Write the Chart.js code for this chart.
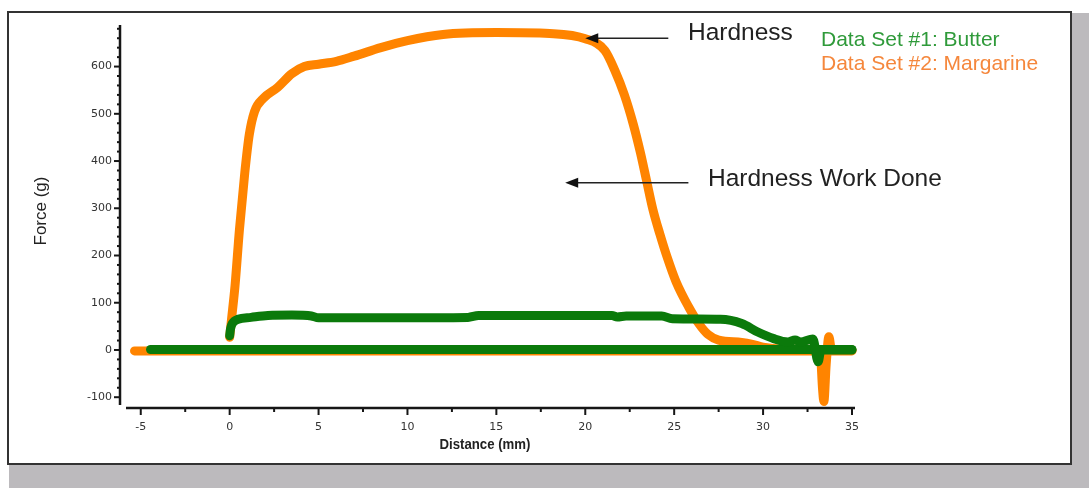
<!DOCTYPE html>
<html>
<head>
<meta charset="utf-8">
<title>Hardness - Butter vs Margarine</title>
<script src="https://cdn.jsdelivr.net/npm/chart.js@4.4.1/dist/chart.umd.min.js"></script>
<style>
html, body { margin: 0; padding: 0; background: #fff; }
#shade { position: absolute; left: 9px; top: 13px; width: 1080px; height: 475px; background: #bcbabd; }
#frame { position: absolute; left: 7px; top: 11px; width: 1061px; height: 450px; border: 2px solid #333; background: #fff; }
#chart { position: absolute; left: 0; top: 0; }
</style>
</head>
<body>
<div id="shade"></div>
<div id="frame"></div>
<canvas id="chart" width="1089" height="488"></canvas>
<script>
// Data Set #1: Butter (force curve + return baseline), distance in mm, force in g
var butterForceX = [0, 0.05, 0.15, 0.47, 1.2, 2.15, 3.5, 4.6, 5.0, 9.0, 13.4, 14.0, 21.5, 21.8, 22.3, 24.3, 24.9, 27.6, 28.8, 29.7, 30.6, 31.4, 31.8, 32.1, 32.8, 33.1, 33.25, 35.0];
var butterForceY = [30, 45, 56, 65, 69, 73, 74, 72, 68, 68, 69, 73, 73, 70, 72, 72, 66, 65, 56, 38, 24, 17, 21, 17, 23, -25, 0, 0];
var butterBaseX = [-4.45, 35.0];
var butterBaseY = [1, 1];

// Data Set #2: Margarine
var margarineForceX = [0, 0.1, 0.3, 0.55, 0.85, 1.1, 1.4, 1.9, 2.7, 3.5, 4.2, 5.0, 6.0, 7.0, 8.5, 10.0, 12.0, 15.0, 18.0, 20.0, 21.1, 21.65, 22.2, 22.7, 23.1, 23.45, 23.8, 24.2, 24.6, 25.1, 25.8, 26.4, 26.9, 27.5, 28.8, 29.4, 30.0, 31.0, 33.2, 33.35, 33.42, 33.55, 33.7, 33.85, 35.0];
var margarineForceY = [27, 63, 135, 255, 375, 455, 505, 533, 556, 585, 600, 605, 611, 622, 640, 655, 668, 672, 670, 659, 634, 593, 540, 478, 418, 358, 298, 245, 197, 145, 92, 55, 33, 21, 16, 12, 6, 2, 0, -85, -109, -30, 28, 0, 0];
var margarineBaseX = [-5.35, 35.0];
var margarineBaseY = [-2, -2];

var seriesNames = ['Data Set #1: Butter', 'Data Set #2: Margarine'];

// axis ranges and ticks
var xMin = -5.83, xMax = 35.17, xMinorStep = 2.5;
var yMin = -116.5, yMax = 688, yMinorStep = 20;
var xTicks = [-5, 0, 5, 10, 15, 20, 25, 30, 35];
var yTicks = [-100, 0, 100, 200, 300, 400, 500, 600];

var GREEN = '#0b7a0b', ORANGE = '#ff8400';

function pts(xs, ys) {
    var out = [];
    for (var i = 0; i < xs.length; i++) out.push({x: xs[i], y: ys[i]});
    return out;
}

function line(label, xs, ys, color) {
    return {
        label: label,
        data: pts(xs, ys),
        showLine: true,
        borderColor: color,
        backgroundColor: color,
        borderWidth: 9,
        borderCapStyle: 'round',
        borderJoinStyle: 'round',
        pointRadius: 0,
        cubicInterpolationMode: 'monotone',
        clip: false
    };
}

/* axes lines, major/minor ticks, titles and annotations */
var decorPlugin = {
    id: 'decor',
    afterDraw: function(chart) {
        var ctx = chart.ctx, a = chart.chartArea;
        var xs = chart.scales.x, ys = chart.scales.y;
        var ax = a.left - 6, ay = a.bottom + 3;
        var i, v, p;

        ctx.save();
        ctx.strokeStyle = '#161616';
        ctx.lineWidth = 2.5;
        ctx.beginPath(); ctx.moveTo(ax, a.top); ctx.lineTo(ax, a.bottom); ctx.stroke();
        ctx.beginPath(); ctx.moveTo(a.left, ay); ctx.lineTo(a.right, ay); ctx.stroke();

        ctx.lineWidth = 2;
        for (i = Math.ceil(yMin / yMinorStep); i * yMinorStep <= yMax; i++) {
            v = i * yMinorStep;
            p = ys.getPixelForValue(v);
            ctx.beginPath();
            ctx.moveTo(ax - (yTicks.indexOf(v) >= 0 ? 6 : 3), p);
            ctx.lineTo(ax, p);
            ctx.stroke();
        }
        for (i = Math.ceil(xMin / xMinorStep); i * xMinorStep <= xMax; i++) {
            v = i * xMinorStep;
            p = xs.getPixelForValue(v);
            ctx.beginPath();
            ctx.moveTo(p, ay);
            ctx.lineTo(p, ay + (xTicks.indexOf(v) >= 0 ? 7 : 4));
            ctx.stroke();
        }

        // axis titles
        ctx.fillStyle = '#222';
        ctx.textAlign = 'center';
        ctx.textBaseline = 'middle';
        ctx.save();
        ctx.translate(41, 211);
        ctx.rotate(-Math.PI / 2);
        ctx.font = '17px "Liberation Sans", Arial, sans-serif';
        ctx.fillText('Force (g)', 0, 0);
        ctx.restore();

        ctx.save();
        ctx.translate(485, 445);
        ctx.scale(0.88, 1);
        ctx.font = 'bold 15px "Liberation Sans", Arial, sans-serif';
        ctx.fillText('Distance (mm)', 0, 0);
        ctx.restore();

        // annotations
        ctx.textAlign = 'left';
        ctx.font = '24.5px "Liberation Sans", Arial, sans-serif';
        ctx.fillText('Hardness', 688, 33);
        ctx.fillText('Hardness Work Done', 708, 179);
        arrow(ctx, xs.getPixelForValue(24.67), ys.getPixelForValue(660), xs.getPixelForValue(20.0), ys.getPixelForValue(660));
        arrow(ctx, xs.getPixelForValue(25.8), ys.getPixelForValue(354), xs.getPixelForValue(18.87), ys.getPixelForValue(354));

        // legend
        ctx.font = '21px "Liberation Sans", Arial, sans-serif';
        ctx.fillStyle = '#2f9a3a';
        ctx.fillText(seriesNames[0], 821, 40);
        ctx.fillStyle = '#f5873c';
        ctx.fillText(seriesNames[1], 821, 64);
        ctx.restore();
    }
};

function arrow(ctx, x0, y0, x1, y1) {
    ctx.save();
    ctx.strokeStyle = '#222';
    ctx.fillStyle = '#111';
    ctx.lineWidth = 1.5;
    ctx.beginPath(); ctx.moveTo(x0, y0); ctx.lineTo(x1 + 10, y1); ctx.stroke();
    ctx.beginPath();
    ctx.moveTo(x1, y1);
    ctx.lineTo(x1 + 13, y1 - 5);
    ctx.lineTo(x1 + 13, y1 + 5);
    ctx.closePath();
    ctx.fill();
    ctx.restore();
}

function setTicks(list) {
    return function(s) {
        s.ticks = list.map(function(v) { return {value: v}; });
    };
}

var tickFont = {family: '"DejaVu Sans", Verdana, sans-serif', size: 11};

new Chart(document.getElementById('chart'), {
    type: 'scatter',
    data: {
        datasets: [
            line(seriesNames[0], butterForceX, butterForceY, GREEN),
            line(seriesNames[0], butterBaseX, butterBaseY, GREEN),
            line(seriesNames[1], margarineForceX, margarineForceY, ORANGE),
            line(seriesNames[1], margarineBaseX, margarineBaseY, ORANGE)
        ]
    },
    options: {
        responsive: false,
        animation: false,
        devicePixelRatio: 1,
        layout: {padding: {left: 0, top: 25, right: 234, bottom: 0}},
        plugins: {legend: {display: false}, tooltip: {enabled: false}},
        scales: {
            x: {
                type: 'linear',
                min: xMin, max: xMax,
                grid: {display: false, drawTicks: false},
                border: {display: false},
                afterBuildTicks: setTicks(xTicks),
                ticks: {padding: 16, color: '#333', font: tickFont, maxRotation: 0},
                afterFit: function(s) { s.height = 83; }
            },
            y: {
                type: 'linear',
                min: yMin, max: yMax,
                grid: {display: false, drawTicks: false},
                border: {display: false},
                afterBuildTicks: setTicks(yTicks),
                ticks: {padding: 14, color: '#333', font: tickFont},
                afterFit: function(s) { s.width = 126; }
            }
        }
    },
    plugins: [decorPlugin]
});
</script>
</body>
</html>
